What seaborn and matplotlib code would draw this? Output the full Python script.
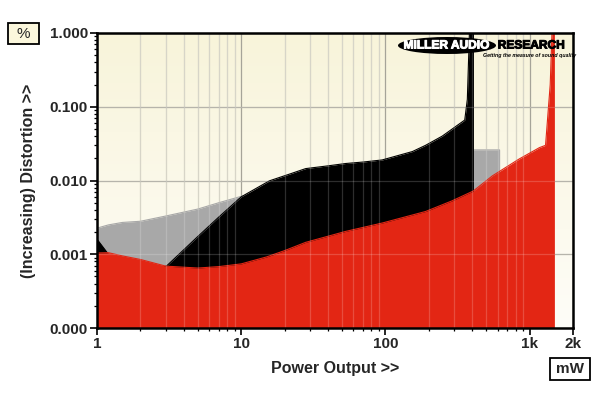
import numpy as np
import pandas as pd
import matplotlib
matplotlib.use("Agg")
import matplotlib.pyplot as plt
import matplotlib.patheffects as pe
import seaborn as sns
from matplotlib.patches import Ellipse, Rectangle
from matplotlib.ticker import LogLocator, FixedLocator, FixedFormatter, NullFormatter

# distortion (%) vs power output (mW)
gray_x = [1, 1.2, 1.5, 2, 3, 5, 7, 10, 20, 50, 100, 200, 300, 619, 619]
gray_y = [0.00226, 0.0025, 0.0027, 0.0028, 0.0033, 0.0041, 0.0050, 0.0061,
          0.0085, 0.012, 0.015, 0.021, 0.026, 0.026, 1e-5]

black_x = [1, 1.25, 2, 3.03, 5, 7, 10, 15.7, 21.6, 28, 40, 53, 70, 95, 154,
           190, 248, 355, 370, 385, 407, 407]
black_y = [0.0016, 0.0009, 0.0006, 0.00069, 0.00174, 0.0032, 0.006, 0.0099,
           0.0122, 0.0145, 0.0158, 0.017, 0.0178, 0.019, 0.0247, 0.030, 0.040,
           0.066, 0.126, 1.5, 1.5, 1e-5]

red_x = [1, 1.2, 1.5, 2, 3, 5, 7, 10, 15, 20, 28, 53, 95, 190, 290, 407, 550,
         840, 1170, 1290, 1390, 1440, 1480, 1480]
red_y = [0.00104, 0.00105, 0.00095, 0.00085, 0.00069, 0.00065, 0.00068,
         0.00074, 0.00092, 0.00112, 0.00145, 0.00204, 0.00265, 0.0038, 0.0053,
         0.0072, 0.0115, 0.0194, 0.0279, 0.030, 0.2, 1.5, 1.5, 1e-5]

x_ticks = [1, 10, 100, 1000, 2000]
x_labels = ["1", "10", "100", "1k", "2k"]
y_ticks = [0.0001, 0.001, 0.01, 0.1, 1]
y_labels = ["0.000", "0.001", "0.010", "0.100", "1.000"]

sns.set_style("white")
plt.rcParams["font.family"] = ["Liberation Sans", "DejaVu Sans"]

fig = plt.figure(figsize=(6, 3.93), dpi=100)
pos = [97 / 600, 1 - 328 / 393, (573 - 97) / 600, (328 - 33) / 393]

# cream gradient background
bg = fig.add_axes(pos, zorder=0)
grad = np.linspace(0, 1, 256).reshape(-1, 1)
cmap = matplotlib.colors.LinearSegmentedColormap.from_list("cream", ["#f8f4da", "#fefdf8"])
bg.imshow(grad, aspect="auto", cmap=cmap, extent=[0, 1, 0, 1])
bg.axis("off")

ax = fig.add_axes(pos, zorder=1)
ax.patch.set_alpha(0)
ax.set_xscale("log")
ax.set_yscale("log")
ax.set_xlim(1, 2000)
ax.set_ylim(1e-4, 1)

ax.xaxis.set_major_locator(FixedLocator(x_ticks))
ax.xaxis.set_major_formatter(FixedFormatter(x_labels))
ax.xaxis.set_minor_locator(LogLocator(subs=np.arange(2, 10)))
ax.xaxis.set_minor_formatter(NullFormatter())
ax.yaxis.set_major_locator(FixedLocator(y_ticks))
ax.yaxis.set_major_formatter(FixedFormatter(y_labels))
ax.yaxis.set_minor_locator(LogLocator(subs=np.arange(2, 10)))
ax.yaxis.set_minor_formatter(NullFormatter())

# grid under the fills
ax.set_axisbelow(True)
ax.grid(which="minor", axis="x", color="#cfccbc", lw=0.9)
ax.grid(which="major", axis="both", color="#a6a499", lw=0.9)

df = pd.concat([
    pd.DataFrame({"x": gray_x, "y": gray_y, "s": "gray"}),
    pd.DataFrame({"x": black_x, "y": black_y, "s": "black"}),
    pd.DataFrame({"x": red_x, "y": red_y, "s": "red"}),
])
colors = {"gray": "#a8a8a8", "black": "#000000", "red": "#e32614"}
for name, z in [("gray", 1), ("black", 2), ("red", 3)]:
    d = df[df.s == name]
    ax.fill_between(d.x, 1e-5, d.y, color=colors[name], lw=0, zorder=z)
    sns.lineplot(data=d, x="x", y="y", sort=False, estimator=None,
                 color=colors[name], lw=0.8, ax=ax, zorder=z)

# faint grid showing through the fills
for xv in ax.xaxis.get_minorticklocs():
    if 1 < xv < 2000:
        ax.axvline(xv, color="white", alpha=0.18, lw=0.9, zorder=4)
for yv in y_ticks[1:-1]:
    ax.axhline(yv, color="white", alpha=0.18, lw=0.9, zorder=4)

ax.set_xlim(1, 2000)
ax.set_ylim(1e-4, 1)
ax.set_xlabel("Power Output >>", fontsize=11.5, fontweight="bold", labelpad=7)
ax.set_ylabel("(Increasing) Distortion >>", fontsize=11.5, fontweight="bold", labelpad=10)
for lab in ax.get_xticklabels() + ax.get_yticklabels():
    lab.set_fontweight("bold")
ax.tick_params(which="major", direction="out", length=5, width=1.2,
               labelsize=11, color="black", pad=1.5, bottom=True, left=True)
ax.tick_params(which="minor", direction="out", length=2.5, width=0.9,
               color="black", bottom=True, left=True)
for sp in ax.spines.values():
    sp.set_color("black")
    sp.set_linewidth(1.8)
    sp.set_zorder(6)

# unit boxes
fig.add_artist(Rectangle((8 / 600, 1 - 44 / 393), 31 / 600, 21 / 393,
                         transform=fig.transFigure, fc="#fbf7dc", ec="black", lw=1.3))
fig.text(23.5 / 600, 1 - 33.5 / 393, "%", ha="center", va="center", fontsize=11)
fig.add_artist(Rectangle((550 / 600, 1 - 380 / 393), 40 / 600, 22 / 393,
                         transform=fig.transFigure, fc="white", ec="black", lw=1.3))
fig.text(570 / 600, 1 - 369 / 393, "mW", ha="center", va="center", fontsize=11, fontweight="bold")

# logo
fig.add_artist(Ellipse((447 / 600, 1 - 45.5 / 393), 98 / 600, 17 / 393,
                       transform=fig.transFigure, fc="black", ec="none", zorder=10))
fig.text(446 / 600, 1 - 45.5 / 393, "MILLER AUDIO", ha="center", va="center",
         fontsize=8.6, fontweight="bold", color="white", zorder=11,
         path_effects=[pe.withStroke(linewidth=0.7, foreground="white")])
fig.text(531 / 600, 1 - 45.5 / 393, "RESEARCH", ha="center", va="center",
         fontsize=8.6, fontweight="bold", color="black", zorder=11,
         path_effects=[pe.withStroke(linewidth=0.7, foreground="black")])
fig.text(530 / 600, 1 - 55.5 / 393, "Getting the measure of sound quality", ha="center",
         va="center", fontsize=3.8, fontweight="bold", style="italic", color="black", zorder=11)

fig.savefig("out.png", dpi=100)
